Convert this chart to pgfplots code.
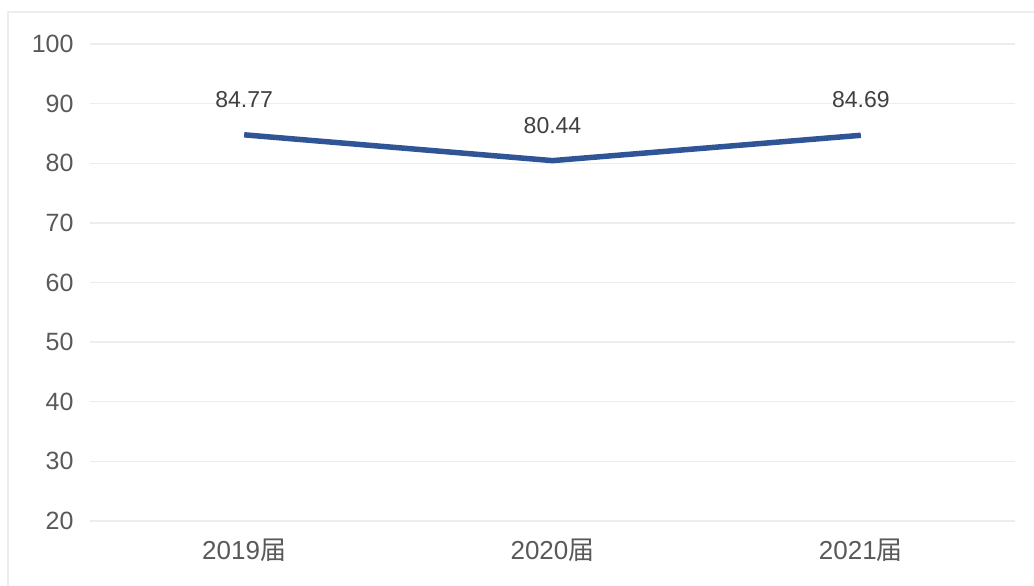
\documentclass[border=0pt]{standalone}
\usepackage{pgfplots}
\pgfplotsset{compat=1.18}
\usepackage{fontspec}
\setmainfont{Liberation Sans}
\newfontfamily\cjk{Noto Sans CJK SC}
\definecolor{linec}{HTML}{2F5597}
\definecolor{gridc}{HTML}{EDEDED}
\definecolor{tickc}{HTML}{595959}
\definecolor{labc}{HTML}{404040}
\begin{document}
\begin{tikzpicture}
\begin{axis}[
  name=ax, anchor=south west, at={(0pt,0pt)},
  scale only axis, width=925pt, height=477pt,
  xmin=-0.5, xmax=2.5, ymin=20, ymax=100,
  ytick={20,30,...,100},
  xtick={0,1,2},
  xticklabels={2019{\cjk 届},2020{\cjk 届},2021{\cjk 届}},
  axis line style={draw=none},
  major tick length=0pt,
  ymajorgrids, grid style={gridc, line width=1.5pt},
  tick label style={font=\fontsize{25}{29}\selectfont, text=tickc},
  yticklabel style={xshift=-13pt},
  xticklabel style={yshift=-14pt, font=\fontsize{26}{30}\selectfont},
  /pgf/number format/assume math mode=true,
  clip=false,
  nodes near coords,
  nodes near coords style={font=\fontsize{23}{27}\selectfont, text=labc, anchor=south, yshift=21pt,
    /pgf/number format/.cd, fixed, fixed zerofill, precision=2},
]
\addplot[linec, line width=5.5pt, line join=round, mark=none] coordinates {(0,84.77) (1,80.44) (2,84.69)};
\end{axis}
\pgfresetboundingbox
\useasboundingbox (-90pt,-65pt) rectangle (944pt,521pt);
\draw[gridc, line width=1.5pt] (-82pt,-65pt) -- (-82pt,509pt) -- (944pt,509pt);
\end{tikzpicture}
\end{document}
